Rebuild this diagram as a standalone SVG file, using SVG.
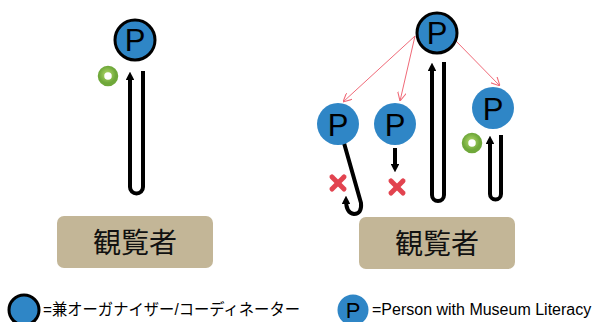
<svg xmlns="http://www.w3.org/2000/svg" width="603" height="322" viewBox="0 0 603 322">
<defs>
<style>
.pc{fill:#2F86C6}
.org{stroke:#000;stroke-width:3}
.pl{font-family:"Liberation Sans",Arial,sans-serif;fill:#000;text-anchor:middle}
.u{fill:none;stroke:#000;stroke-width:4;stroke-linejoin:round}
.ra{fill:none;stroke:#F06A78;stroke-width:1}
.box{fill:#C3B697}
.bt{font-family:"Noto Sans CJK JP",sans-serif;font-size:28px;fill:#111;text-anchor:middle}
.leg{font-family:"Liberation Sans","Noto Sans CJK JP",sans-serif;font-size:16px;fill:#000}
.x{stroke:#E2434F;stroke-width:5;stroke-linecap:round}
.ring{fill:none;stroke:url(#gr);stroke-width:6.5}
</style>
<radialGradient id="gr" cx="0.45" cy="0.4" r="0.6">
<stop offset="0" stop-color="#B6DC6E"/>
<stop offset="1" stop-color="#6FA83A"/>
</radialGradient>
<marker id="ah" viewBox="0 0 10 10" refX="5" refY="5" markerWidth="2.2" markerHeight="2.2" orient="auto-start-reverse" markerUnits="strokeWidth">
<path d="M0,0 L10,5 L0,10 z" fill="#000"/>
</marker>
<marker id="ra" viewBox="0 0 10 10" refX="10" refY="5" markerWidth="9" markerHeight="9" orient="auto" markerUnits="userSpaceOnUse">
<path d="M0,0 L10,5 L0,10" fill="none" stroke="#F06A78" stroke-width="1.2"/>
</marker>
</defs>
<rect width="603" height="322" fill="#fff"/>

<g id="connectors">
<path class="u" d="M130,76 L130,187 A6.5,6.5 0 0 0 143,187 L143,71" marker-start="url(#ah)"/>
<path class="u" d="M432,67 L432,195 A6,6 0 0 0 444,195 L444,62" marker-start="url(#ah)"/>
<path class="u" d="M490,140 L490,194 A5.5,5.5 0 0 0 501,194 L501,135" marker-start="url(#ah)"/>
<path class="u" d="M395,148 L395,168" marker-end="url(#ah)"/>
<path class="u" d="M344,143 L361,203 Q362,214 354,214 Q346,213 346,200" marker-end="url(#ah)"/>
<line class="ra" x1="415" y1="36" x2="343" y2="102" marker-end="url(#ra)"/>
<line class="ra" x1="415" y1="36" x2="400" y2="101" marker-end="url(#ra)"/>
<line class="ra" x1="455" y1="40" x2="500" y2="86" marker-end="url(#ra)"/>
</g>

<g id="p-left">
<circle class="pc org" cx="135" cy="40" r="20"/>
<text class="pl" x="135" y="51" font-size="31">P</text>
</g>
<g id="ring-left"><circle class="ring" cx="108" cy="76" r="7"/></g>

<g id="p-top">
<circle class="pc org" cx="437" cy="33" r="20"/>
<text class="pl" x="437" y="44" font-size="31">P</text>
</g>
<g id="p1">
<circle class="pc" cx="338" cy="124" r="21"/>
<text class="pl" x="338" y="136" font-size="31">P</text>
</g>
<g id="p2">
<circle class="pc" cx="395" cy="124" r="21"/>
<text class="pl" x="395" y="136" font-size="31">P</text>
</g>
<g id="p3">
<circle class="pc" cx="493" cy="108" r="21"/>
<text class="pl" x="493" y="120" font-size="31">P</text>
</g>
<g id="ring-right"><circle class="ring" cx="472" cy="143" r="7"/></g>
<g id="x1"><line class="x" x1="332" y1="177" x2="344" y2="189"/><line class="x" x1="344" y1="177" x2="332" y2="189"/></g>
<g id="x2"><line class="x" x1="391" y1="181" x2="403" y2="193"/><line class="x" x1="403" y1="181" x2="391" y2="193"/></g>

<g id="box-left">
<rect class="box" x="57" y="216" width="156" height="52" rx="7"/>
<text class="bt" x="135" y="253">観覧者</text>
</g>
<g id="box-right">
<rect class="box" x="359" y="217" width="156" height="52" rx="7"/>
<text class="bt" x="437" y="254">観覧者</text>
</g>

<g id="legend-org">
<circle class="pc org" cx="24" cy="310" r="15"/>
<text class="leg" x="43" y="315" font-size="15.5" textLength="257" lengthAdjust="spacingAndGlyphs">=兼オーガナイザー/コーディネーター</text>
</g>
<g id="legend-p">
<circle class="pc" cx="353" cy="310" r="15.5"/>
<text class="pl" x="353" y="318" font-size="22">P</text>
<text class="leg" x="372" y="315" font-size="16.6">=Person with Museum Literacy</text>
</g>
</svg>
